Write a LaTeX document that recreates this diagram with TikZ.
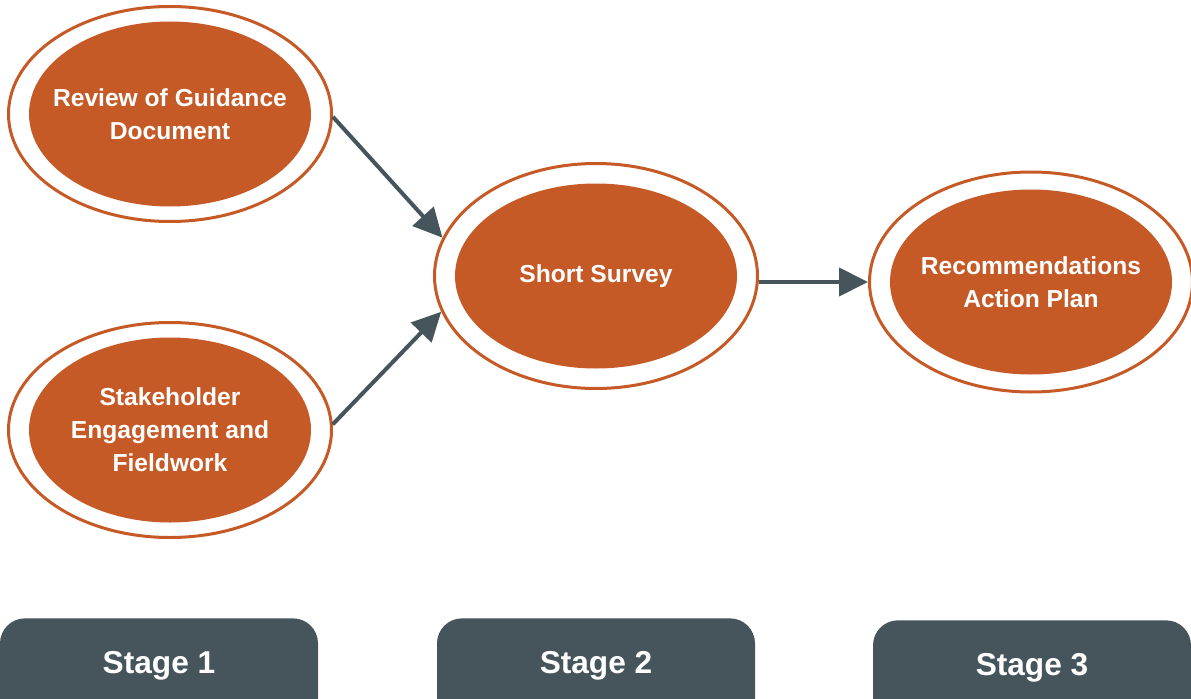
\documentclass[tikz,border=0pt]{standalone}
\usepackage{fontspec}
\setmainfont{Liberation Sans}
\usetikzlibrary{shapes.geometric,arrows.meta}
\definecolor{brick}{HTML}{C65A27}
\definecolor{slate}{HTML}{46555B}
\begin{document}
\begin{tikzpicture}[font=\bfseries]

% Styles
\tikzset{
    ring/.style={ellipse, draw=brick, line width=0.06cm, fill=white,
        minimum width=6.46cm, minimum height=4.3cm, inner sep=0pt},
    core/.style={ellipse, fill=brick, text=white, align=center,
        minimum width=5.64cm, minimum height=3.7cm, inner xsep=-0.5cm, inner ysep=0pt,
        font=\fontsize{14}{18.7}\selectfont\bfseries},
    stagebox/.style={rectangle, rounded corners=0.5cm, fill=slate, text=white,
        anchor=north, minimum width=6.36cm, inner sep=0pt,
        text height=1.1cm, text depth=1.3cm,
        font=\fontsize{18}{22}\selectfont\bfseries},
    flow/.style={slate, line width=0.08cm, -{Triangle[length=0.58cm,width=0.56cm]}}
}

\useasboundingbox (0,0) rectangle (23.82,13.96);

% Stage 1
\node[ring] (rev) at (3.40,11.68) {};
\node[core] (revc) at (rev) {Review of Guidance\\Document};
\node[ring] (stake) at (3.40,5.36) {};
\node[core] (stakec) at (stake) {Stakeholder\\Engagement and\\Fieldwork};

% Stage 2
\node[ring, minimum height=4.5cm] (survey) at (11.92,8.44) {};
\node[core] (surveyc) at (survey) {Short Survey};

% Stage 3
\node[ring, minimum height=4.4cm] (rec) at (20.62,8.32) {};
\node[core] (recc) at (rec) {Recommendations\\Action Plan};

% Arrows
\draw[flow] (rev.-1) -- (survey.166);
\draw[flow] (stake.2) -- (survey.193);
\draw[flow] (survey.east |- 0,8.32) -- (rec.west |- 0,8.32);

% Stage labels
\node[stagebox] (st1) at (3.18,1.60) {Stage 1};
\node[stagebox] (st2) at (11.92,1.60) {Stage 2};
\node[stagebox] (st3) at (20.64,1.56) {Stage 3};

\end{tikzpicture}
\end{document}
